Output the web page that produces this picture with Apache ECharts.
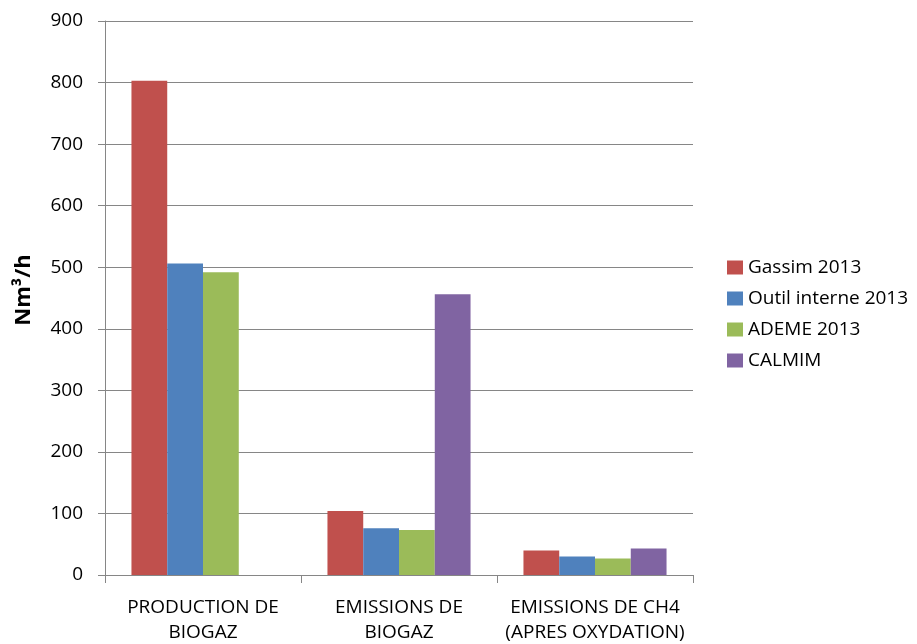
<!DOCTYPE html>
<html>
<head>
<meta charset="utf-8">
<style>
  html, body { margin: 0; padding: 0; background: #fff; }
  #chart { width: 917px; height: 644px; }
</style>
<script src="https://cdn.jsdelivr.net/npm/echarts@6/dist/echarts.min.js"></script>
</head>
<body>
<div id="chart"></div>
<script>
// Biogas flow estimates (Nm³/h) by method
const categories = ['PRODUCTION DE\nBIOGAZ', 'EMISSIONS DE\nBIOGAZ', 'EMISSIONS DE CH4\n(APRES OXYDATION)'];
const gassim2013 = [803, 104, 40];
const outilInterne2013 = [506, 76, 30];
const ademe2013 = [492, 73, 27];
const calmim = [null, 456, 43];
const yTicks = { min: 0, max: 900, interval: 100 };

const FONT = '"Open Sans", Lato, sans-serif';
const GRID_GRAY = '#868686';

const chart = echarts.init(document.getElementById('chart'), null, { renderer: 'canvas' });

function barSeries(name, data, color) {
  return {
    name: name,
    type: 'bar',
    data: data,
    barGap: '0%',
    barCategoryGap: '27%',
    itemStyle: { color: color },
    animation: false
  };
}

chart.setOption({
  backgroundColor: '#ffffff',
  textStyle: { fontFamily: FONT },
  grid: { left: 105, right: 224, top: 21, bottom: 69, containLabel: false, outerBoundsMode: 'none' },
  legend: {
    orient: 'vertical',
    left: 722,
    top: 253,
    itemWidth: 16,
    itemHeight: 14,
    itemGap: 12,
    icon: 'rect',
    textStyle: { fontFamily: FONT, fontSize: 19, color: '#000', padding: [0, 0, 0, 0] },
    data: ['Gassim 2013', 'Outil interne 2013', 'ADEME 2013', 'CALMIM']
  },
  xAxis: {
    type: 'category',
    data: categories,
    axisLine: { lineStyle: { color: GRID_GRAY, width: 1 } },
    axisTick: { show: true, alignWithLabel: false, length: 8, lineStyle: { color: GRID_GRAY } },
    axisLabel: {
      interval: 0,
      margin: 20,
      fontFamily: FONT,
      fontSize: 19,
      lineHeight: 25,
      color: '#000'
    }
  },
  yAxis: {
    type: 'value',
    min: yTicks.min,
    max: yTicks.max,
    interval: yTicks.interval,
    name: 'Nm³/h',
    nameLocation: 'middle',
    nameRotate: 90,
    nameGap: 70,
    nameTextStyle: {
      fontFamily: FONT,
      fontSize: 22,
      fontWeight: 'bold',
      color: '#000',
      padding: [0, 0, 0, 16]
    },
    axisLine: { show: true, lineStyle: { color: GRID_GRAY, width: 1 } },
    axisTick: { show: true, length: 7, lineStyle: { color: GRID_GRAY } },
    axisLabel: { margin: 22, fontFamily: FONT, fontSize: 19, color: '#000' },
    splitLine: { show: true, lineStyle: { color: GRID_GRAY, width: 1 } }
  },
  series: [
    barSeries('Gassim 2013', gassim2013, '#C0504D'),
    barSeries('Outil interne 2013', outilInterne2013, '#4F81BD'),
    barSeries('ADEME 2013', ademe2013, '#9BBB59'),
    barSeries('CALMIM', calmim, '#8064A2')
  ],
  animation: false
});
</script>
</body>
</html>
